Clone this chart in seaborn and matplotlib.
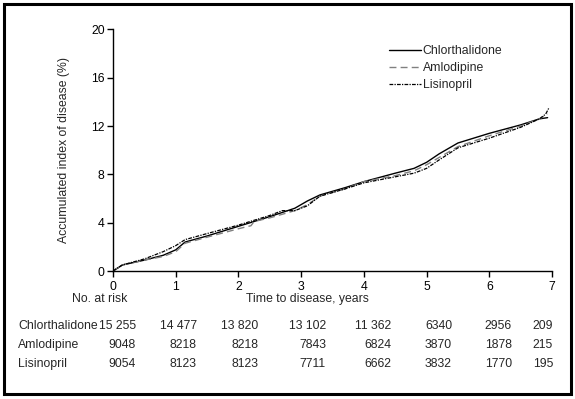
import matplotlib
matplotlib.use("Agg")
import matplotlib.pyplot as plt
import seaborn as sns
import pandas as pd
from matplotlib.patches import Rectangle

# ---------------- data ----------------
series_names = ["Chlorthalidone", "Amlodipine", "Lisinopril"]

t_chlor = [0, 0.15, 0.5, 0.8, 1.0, 1.15, 1.5, 2.0, 2.5, 2.9, 3.1, 3.3, 3.7, 4.0, 4.5, 4.8, 5.0, 5.2, 5.5, 6.0, 6.5, 6.8, 6.93]
v_chlor = [0, 0.5, 0.9, 1.3, 1.75, 2.4, 2.9, 3.7, 4.5, 5.2, 5.8, 6.3, 6.9, 7.4, 8.1, 8.5, 9.0, 9.7, 10.6, 11.4, 12.1, 12.6, 12.7]

t_amlo = [0, 0.15, 0.5, 0.8, 1.0, 1.15, 1.5, 2.0, 2.2, 2.25, 2.5, 2.9, 3.1, 3.3, 3.7, 4.0, 4.5, 4.8, 5.0, 5.2, 5.5, 6.0, 6.5, 6.8, 6.93]
v_amlo = [0, 0.5, 0.9, 1.2, 1.6, 2.3, 2.8, 3.5, 3.75, 4.1, 4.4, 5.0, 5.5, 6.2, 6.8, 7.4, 7.9, 8.3, 8.8, 9.4, 10.3, 11.2, 12.0, 12.6, 13.0]

t_lisi = [0, 0.15, 0.5, 0.8, 1.0, 1.15, 1.5, 2.0, 2.5, 2.7, 2.9, 3.1, 3.3, 3.7, 4.0, 4.5, 4.8, 5.0, 5.2, 5.5, 6.0, 6.5, 6.8, 6.9, 6.95]
v_lisi = [0, 0.5, 1.0, 1.6, 2.1, 2.6, 3.1, 3.8, 4.6, 5.0, 5.0, 5.4, 6.2, 6.8, 7.3, 7.8, 8.1, 8.5, 9.2, 10.2, 11.0, 11.9, 12.6, 13.0, 13.5]

x_ticks = [0, 1, 2, 3, 4, 5, 6, 7]
y_ticks = [0, 4, 8, 12, 16, 20]

risk_rows = ["Chlorthalidone", "Amlodipine", "Lisinopril"]
risk_chlor = ["15 255", "14 477", "13 820", "13 102", "11 362", "6340", "2956", "209"]
risk_amlo = ["9048", "8218", "8218", "7843", "6824", "3870", "1878", "215"]
risk_lisi = ["9054", "8123", "8123", "7711", "6662", "3832", "1770", "195"]

# ---------------- style ----------------
sns.set_style("ticks")
FONT = ["Liberation Sans Narrow", "Liberation Sans", "DejaVu Sans"]
plt.rcParams["font.family"] = FONT
FS = 8.8
plt.rcParams["font.size"] = FS

W, H = 575, 399
fig = plt.figure(figsize=(W / 100, H / 100), dpi=100)
ax = fig.add_axes([113 / W, 1 - 271 / H, (552 - 113) / W, (271 - 29.5) / H])

df = pd.concat([
    pd.DataFrame({"t": t_chlor, "v": v_chlor, "s": series_names[0]}),
    pd.DataFrame({"t": t_amlo, "v": v_amlo, "s": series_names[1]}),
    pd.DataFrame({"t": t_lisi, "v": v_lisi, "s": series_names[2]}),
])

styles = {
    "Chlorthalidone": dict(color="black", ls="-", lw=1.0),
    "Amlodipine": dict(color="#808080", ls=(0, (5, 3)), lw=1.0),
    "Lisinopril": dict(color="black", ls=(0, (3, 1, 1, 1)), lw=0.9),
}
for name in series_names:
    sub = df[df["s"] == name]
    st = styles[name]
    sns.lineplot(data=sub, x="t", y="v", ax=ax, color=st["color"], linestyle=st["ls"],
                 linewidth=st["lw"], label=name, estimator=None, sort=False)

ax.set_xlim(0, 7)
ax.set_ylim(0, 20)
ax.set_xticks(x_ticks)
ax.set_yticks(y_ticks)
ax.set_xlabel("")
ax.set_ylabel("Accumulated index of disease (%)", fontsize=FS, labelpad=15)
sns.despine(ax=ax)
for sp in ["left", "bottom"]:
    ax.spines[sp].set_linewidth(1.0)
    ax.spines[sp].set_color("black")
ax.tick_params(axis="both", direction="out", length=4, width=1, colors="black", labelsize=FS, pad=2)
ax.tick_params(axis="x", pad=3)

leg = ax.legend(loc="upper left", bbox_to_anchor=((389 - 113) / (552 - 113), 1 - (45 - 29.5) / (271 - 29.5)),
                frameon=False, handlelength=2.6, handletextpad=0.15, labelspacing=0.4,
                borderaxespad=0, borderpad=0, fontsize=FS)

# axis labels as figure text
fig.text(307 / W, 1 - 299 / H, "Time to disease, years", ha="center", va="center", fontsize=FS)
fig.text(100 / W, 1 - 299 / H, "No. at risk", ha="center", va="center", fontsize=FS)

# at-risk table
col_right = [136, 197, 258, 326, 391, 452, 512, 553]
row_y = [326, 345, 364]
for name, vals, y in zip(risk_rows, [risk_chlor, risk_amlo, risk_lisi], row_y):
    fig.text(18 / W, 1 - y / H, name, ha="left", va="center", fontsize=FS)
    for xr, v in zip(col_right, vals):
        fig.text(xr / W, 1 - y / H, v, ha="right", va="center", fontsize=FS)

# border
fig.patches.append(Rectangle((3.5 / W, 1 - 393.5 / H), (571 - 3.5) / W, (393.5 - 3.5) / H,
                             transform=fig.transFigure, fill=False, edgecolor="black", linewidth=2.2))

fig.savefig("out.png", dpi=100)
